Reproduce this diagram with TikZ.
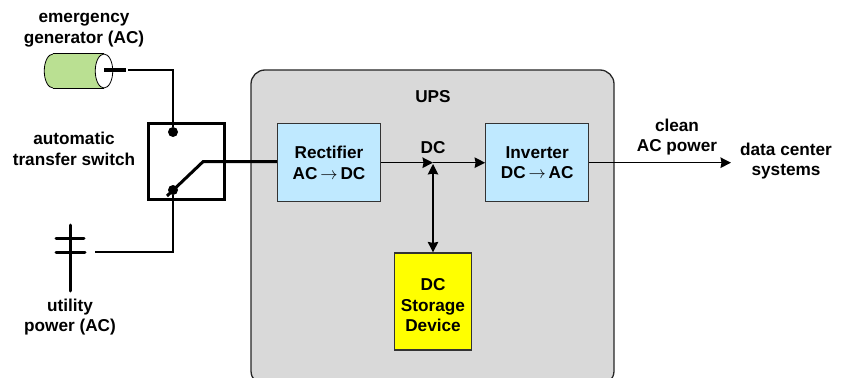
\documentclass[tikz,border=0pt]{standalone}
\usepackage{fontspec}
\setmainfont{Liberation Sans}
\usetikzlibrary{shapes.geometric, arrows.meta, positioning}
\definecolor{convblue}{RGB}{191,233,255}
\definecolor{storeyellow}{RGB}{255,255,0}
\definecolor{gengreen}{RGB}{186,224,146}
\definecolor{upsgray}{RGB}{217,217,217}
\newcommand{\convto}{\,$\mathbf{\rightarrow}$\,}

\begin{document}
\begin{tikzpicture}[
    x=1pt, y=-1pt,
    node distance=104pt,
    every node/.style={font=\fontsize{17.2}{20.5}\selectfont\bfseries},
    label/.style={align=center, inner sep=0pt},
    box/.style={rectangle, draw=black!80, line width=1.2pt, fill=convblue, align=center, minimum width=103pt, minimum height=78pt},
    store/.style={rectangle, draw=black!80, line width=1.2pt, fill=storeyellow, align=center, minimum width=77pt, minimum height=97pt},
    dot/.style={circle, fill=black, inner sep=0pt, minimum size=10pt},
    genend/.style={ellipse, draw=black, line width=0.8pt, inner sep=0pt, minimum width=17.5pt, minimum height=34pt},
    arrow/.style={-{Stealth[length=10.5pt, width=10.5pt, inset=1pt]}, line width=1.3pt},
    biarrow/.style={{Stealth[length=10.5pt, width=10.5pt, inset=1pt]}-{Stealth[length=10.5pt, width=10.5pt, inset=1pt]}, line width=1.3pt},
    wire/.style={line width=1.1pt},
    heavy/.style={line width=3pt},
    pole/.style={line width=3pt, line cap=round}
]
\useasboundingbox (0,0) rectangle (842,377);

% UPS enclosure
\node[draw=black!85, line width=1.3pt, fill=upsgray, rounded corners=14pt, minimum width=363pt, minimum height=315pt] (ups) at (432.5,227.5) {};
\node[label] (upslabel) at (433,97) {UPS};

% Converters
\node[box] (rectifier) at (329,162.7) {Rectifier\\AC\convto DC};
\node[box, right=of rectifier] (inverter) {Inverter\\DC\convto AC};
\coordinate (dcbus) at (433,162.7);
\coordinate (dctap) at (433,164);
\node[label] (dclabel) at (433,148) {DC};
\node[store] (storage) at (433,301.5) {\rule{0pt}{20pt}DC\\Storage\\Device};

% Transfer switch
\node[rectangle, draw=black, heavy, minimum width=76pt, minimum height=76pt] (switch) at (186,161) {};
\node[dot] (gendot) at (173,132) {};
\node[dot] (utildot) at (173,190) {};
\coordinate (bladeend) at (167,196);
\coordinate (knee) at (203,161.7);
\node[label] (switchlabel) at (74,149) {automatic\\transfer switch};

% Generator
\node[genend, fill=gengreen] (genback) at (53,71) {};
\fill[gengreen] (genback.north) rectangle (104,88);
\node[genend, fill=white] (genface) at (104,71) {};
\draw[line width=0.8pt] (genback.north) -- (genface.north);
\draw[line width=0.8pt] (genback.south) -- (genface.south);
\coordinate (genstub) at (104,70);
\coordinate (gentip) at (126,70);
\coordinate (genout) at (128,70);
\node[label] (genlabel) at (84,30) {emergency\\generator (AC)};

% Utility pole
\coordinate (poletop) at (70,225);
\coordinate (polefoot) at (70,291);
\coordinate (armone) at (56,238);
\coordinate (armonee) at (84,238);
\coordinate (armtwo) at (56,252);
\coordinate (armtwoe) at (85,252);
\coordinate (poleout) at (95,252);
\node[label] (utillabel) at (70,317) {utility\\power (AC)};

% Load
\node[label] (loadlabel) at (786,161) {data center\\systems};
\coordinate (loadin) at (731,162.7);
\node[label] (cleanlabel) at (677,137) {clean\\AC power};

% Arrows
\draw[line width=4.5pt] (genstub) -- (gentip);
\draw[wire] (genout) -| (gendot);
\draw[wire] (poleout) -| (utildot);
\draw[pole] (poletop) -- (polefoot);
\draw[pole] (armone) -- (armonee);
\draw[pole] (armtwo) -- (armtwoe);
\draw[heavy] (bladeend) -- (knee) -- (rectifier.west |- knee);
\draw[arrow] (rectifier) -- (dcbus);
\draw[arrow] (dcbus) -- (inverter);
\draw[biarrow] (dctap) -- (storage);
\draw[arrow] (inverter) -- (loadin);

\end{tikzpicture}
\end{document}
